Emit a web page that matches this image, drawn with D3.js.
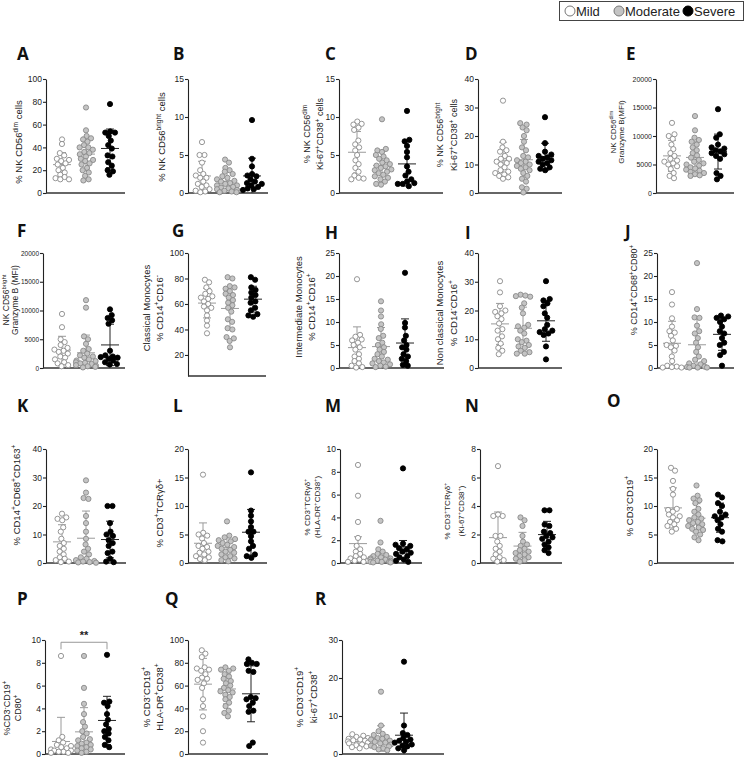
<!DOCTYPE html>
<html>
<head>
<meta charset="utf-8">
<script src="https://cdn.jsdelivr.net/npm/d3@7"></script>
<style>
body { margin: 0; background: #fff; }
svg text { font-family: "Liberation Sans", Arial, sans-serif; fill: #222; }
.letter { font-family: "Open Sans", sans-serif; font-weight: 700; font-size: 17px; fill: #111; }
</style>
</head>
<body>
<svg width="745" height="758"></svg>
<script>
const groups = ["Mild", "Moderate", "Severe"]

// values per panel: [mild, moderate, severe]
const A = [
	[47, 43, 35, 33, 30, 29, 28, 26, 25, 22, 20, 18, 16, 14, 13, 12, 12],
	[75, 55, 50, 48, 47, 45, 42, 40, 40, 38, 36, 35, 34, 32, 30, 29, 28, 26, 25, 22, 20, 18, 15, 12, 11],
	[78, 54, 53, 53, 50, 46, 42, 39, 33, 32, 27, 24, 20, 19, 16]
]
const B = [
	[6.7, 5, 5, 4, 3, 2.5, 2.3, 2, 2, 1.5, 1.2, 1, 0.8, 0.5, 0.3, 0.2, 0.1],
	[4.4, 4, 3.3, 3, 2.8, 2.5, 2.2, 2, 1.8, 1.6, 1.5, 1.3, 1.2, 1, 1, 0.8, 0.7, 0.6, 0.5, 0.4, 0.3, 0.2, 0.1, 0.1],
	[9.6, 4.5, 3.5, 2.5, 2.3, 2.2, 1.8, 1.5, 1.3, 1.2, 1, 0.8, 0.6, 0.5, 0.4]
]
const C = [
	[9.4, 9.1, 9, 8.6, 8.3, 6.9, 6.4, 6, 5.6, 5, 4.3, 3.8, 3.3, 2.8, 2.3, 2.0, 1.8, 1.9],
	[9.7, 5.8, 5.6, 5.4, 5, 4.8, 4.5, 4.3, 4, 3.8, 3.6, 3.5, 3.3, 3.1, 3, 2.8, 2.6, 2.4, 2.2, 2, 1.8, 1.5, 1.2, 1.1],
	[10.8, 7, 6.8, 6.2, 5.4, 4.7, 3.5, 2.8, 2.3, 1.8, 1.5, 1.3, 1.2, 0.9, 1.2]
]
const D = [
	[32.4, 18, 16, 15, 14.5, 13, 12, 12, 11, 10.5, 10, 9, 8, 7.5, 7, 6.5, 6, 5.5, 5],
	[24.5, 24, 23, 22, 20, 18, 16, 15, 13, 12.5, 11.5, 11, 10.5, 10, 9.5, 9, 8.5, 8, 7, 6, 5, 4, 2, 1.5, 0.2],
	[26.6, 17.5, 14.5, 13.5, 13, 12.5, 12, 11.5, 11, 10.5, 10, 9, 8.5, 8]
]
const E = [
	[12300, 10300, 10000, 9500, 8500, 7700, 7000, 6500, 6000, 5700, 5500, 5200, 5000, 4700, 4200, 3500, 3000, 2600],
	[13500, 11000, 9700, 9300, 9000, 8500, 8000, 7500, 7000, 6600, 6200, 5800, 5500, 5200, 5000, 4800, 4500, 4300, 4100, 3900, 3700, 3500, 3300, 3100, 3000],
	[14700, 10300, 9700, 8500, 8000, 7800, 7500, 7300, 7000, 6800, 6500, 6000, 3500, 3000, 2400]
]
const F = [
	[9400, 7100, 5000, 4500, 4000, 3500, 3200, 3000, 2800, 2500, 2000, 1800, 1500, 1000, 800, 500, 300],
	[11800, 10500, 5500, 5000, 4200, 3300, 3000, 2500, 2200, 2000, 1800, 1500, 1300, 1200, 1000, 900, 800, 700, 500, 400, 300, 200, 100],
	[10200, 9200, 8700, 8300, 7700, 3000, 2200, 2000, 1900, 1800, 1600, 1300, 1000, 700, 600]
]
const G = [
	[79, 77, 73, 70, 68, 66, 65, 64, 62, 60, 58, 57, 55, 51, 47, 43, 37],
	[81, 80, 74, 73, 72, 70, 68, 67, 65, 63, 61, 59, 57, 54, 48, 46, 41, 40, 34, 33, 31, 26],
	[81, 79, 73, 71, 69, 67, 65, 62, 61, 57, 55, 52, 51, 50]
]
const H = [
	[19.3, 7.2, 6.8, 6.2, 6, 5.5, 5, 4.5, 4, 3, 2.5, 2, 1.5, 1, 0.5, 0.2, 0.1],
	[14.5, 12.5, 11.2, 9.5, 8.5, 7, 6.5, 5.5, 5, 4.5, 4, 3.5, 3, 2.5, 2, 1.8, 1.5, 1.2, 1, 0.8, 0.5, 0.3, 0.2],
	[20.7, 9.8, 8.8, 7, 6, 5, 4.5, 4, 3, 2.5, 2, 1.5, 0.7, 0.5]
]
const I = [
	[30.2, 26.3, 21.5, 20, 19.5, 19, 18, 17, 15.5, 13.5, 13, 11, 10, 8.5, 7, 6, 4.8],
	[25.5, 25.2, 25, 24.8, 22.5, 21, 19, 15, 14.5, 14, 13, 12, 10, 9.5, 9, 8, 7.5, 7, 6, 5.5, 5, 5],
	[30.2, 24, 23.5, 22.5, 21.5, 19, 17.5, 15, 13.5, 13, 12.5, 12, 11.5, 7.5, 3]
]
const J = [
	[16.5, 13.8, 10.8, 9, 8, 7.7, 7, 6, 5, 4.8, 4.5, 3.8, 2.5, 1.5, 0.5, 0.3, 0.2, 0.1, 0.1],
	[22.8, 12.8, 11, 10.9, 9.2, 8, 7.5, 6.5, 5.5, 4.5, 3.5, 2.5, 1.8, 1.5, 1, 0.8, 0.5, 0.3, 0.2, 0.1, 0.1, 0.1],
	[11.4, 11.2, 10.9, 10.6, 10, 9, 8, 7.5, 6.5, 5.5, 5, 3.5, 2.8, 0.5]
]
const K = [
	[17.3, 16, 15.5, 15, 12.5, 11, 8.5, 7, 6, 5, 4, 3, 2, 1.5, 1, 0.5, 0.3],
	[29, 24.7, 22.8, 22.5, 16.5, 14, 11, 8.5, 6.5, 5, 4, 3, 2, 1.5, 1, 0.7, 0.5, 0.3, 0.2, 0.1],
	[20, 20, 14, 11, 10, 9.5, 8, 7, 6, 4, 3.5, 1.5, 0.5, 0.3]
]
const L = [
	[15.5, 5.3, 5, 4.8, 4.3, 3.5, 3, 2.8, 2.5, 2, 1.8, 1.5, 1.2, 1, 0.7, 0.5],
	[7.3, 4.8, 4.5, 4.2, 4, 3.8, 3.5, 3.2, 3, 2.8, 2.5, 2.3, 2, 1.8, 1.5, 1.2, 1, 0.8, 0.5, 0.3],
	[15.9, 9.2, 8.3, 7.3, 6.3, 5.5, 5.5, 4.7, 3.8, 3, 2.5, 1.5, 1.2, 0.9]
]
const M = [
	[8.6, 5.9, 3.6, 2.2, 1.5, 1.2, 1, 0.8, 0.6, 0.5, 0.4, 0.3, 0.2, 0.2, 0.1, 0.1],
	[3.7, 1.8, 1.2, 1, 0.8, 0.7, 0.6, 0.5, 0.4, 0.4, 0.3, 0.3, 0.2, 0.2, 0.1, 0.1, 0.1, 0.05, 0.05],
	[8.3, 1.7, 1.6, 1.5, 1.3, 1.2, 1, 0.9, 0.8, 0.6, 0.5, 0.3, 0.2, 0.1]
]
const N = [
	[6.8, 3.4, 3.3, 3.3, 1.9, 1.9, 1.5, 1.2, 1, 0.8, 0.6, 0.4, 0.3, 0.2, 0.1],
	[3.2, 3.0, 2.6, 1.9, 1.5, 1.3, 1.2, 1, 0.9, 0.8, 0.7, 0.6, 0.5, 0.4, 0.3, 0.2, 0.1],
	[3.7, 3.7, 2.7, 2.6, 2.2, 2.1, 1.9, 1.8, 1.7, 1.5, 1.3, 1.1, 0.9, 0.7]
]
const O = [
	[16.7, 16.2, 14.4, 13, 12, 9.5, 9.3, 9, 8.5, 8.2, 8, 7.5, 7.2, 6.8, 6.5, 6, 5.5],
	[13.6, 11.8, 11.3, 11, 10.5, 9.5, 9, 8.5, 8, 7.8, 7.5, 7.2, 7, 6.8, 6.5, 6.2, 6, 5.8, 5.5, 5, 4.5, 4],
	[12, 11.5, 10.5, 10, 9, 8.5, 8.2, 8, 7.5, 6.8, 6, 5.5, 4, 3.8]
]
const P = [
	[8.6, 1.5, 1.2, 1, 0.8, 0.7, 0.6, 0.5, 0.4, 0.3, 0.3, 0.2, 0.2, 0.1, 0.1],
	[8.6, 5.8, 4.4, 3.5, 2.8, 2.4, 2, 1.8, 1.5, 1.3, 1.2, 1, 0.9, 0.8, 0.7, 0.6, 0.5, 0.4, 0.3, 0.2, 0.1],
	[8.7, 4.6, 4.5, 4.2, 3.5, 3, 2.6, 2.2, 2, 1.8, 1.5, 1.2, 0.8, 0.6]
]
const Q = [
	[91, 88, 85, 76, 75, 74, 73, 70, 67, 66, 65, 62, 58, 48, 42, 33, 20, 10],
	[76, 75, 74, 73, 70, 68, 66, 64, 62, 60, 58, 56, 55, 54, 52, 50, 48, 45, 42, 38, 36, 33],
	[83, 80, 79, 79, 73, 72, 50, 49, 48, 45, 42, 38, 37, 10, 7]
]
const R = [
	[5.2, 4.8, 4.5, 4.2, 4, 3.8, 3.6, 3.5, 3.3, 3, 2.8, 2.5, 2.3, 2, 1.8, 1.5],
	[16.4, 7.5, 6, 5.3, 5, 4.5, 4.2, 4, 3.8, 3.5, 3.2, 3, 2.8, 2.5, 2.2, 2, 1.8, 1.5, 1.2, 1],
	[24.3, 7.5, 5.5, 5, 4.2, 3.8, 3.5, 3.2, 3, 2.5, 2.2, 2, 1.5, 1]
]

const values = { A, B, C, D, E, F, G, H, I, J, K, L, M, N, O, P, Q, R }

// y domains and tick labels
const domains = {
	A: [0, 100], B: [0, 15], C: [0, 15], D: [0, 40], E: [0, 20000],
	F: [0, 20000], G: [3.5, 100], H: [0, 25], I: [0, 40], J: [0, 25],
	K: [0, 40], L: [0, 20], M: [0, 10], N: [0, 8], O: [0, 20],
	P: [0, 10], Q: [0, 100], R: [0, 30]
}
const ticks = {
	A: [0, 20, 40, 60, 80, 100], B: [0, 5, 10, 15], C: [0, 5, 10, 15], D: [0, 10, 20, 30, 40],
	E: [0, 5000, 10000, 15000, 20000], F: [0, 5000, 10000, 15000, 20000], G: [20, 40, 60, 80, 100],
	H: [0, 5, 10, 15, 20, 25], I: [0, 10, 20, 30, 40], J: [0, 5, 10, 15, 20, 25],
	K: [0, 10, 20, 30, 40], L: [0, 5, 10, 15, 20], M: [0, 2, 4, 6, 8, 10], N: [0, 2, 4, 6, 8],
	O: [0, 5, 10, 15, 20], P: [0, 2, 4, 6, 8, 10], Q: [0, 20, 40, 60, 80, 100], R: [0, 10, 20, 30]
}

// axis titles, ^{..} = superscript
const titles = {
	A: ["% NK CD56^{dim} cells"],
	B: ["% NK CD56^{bright} cells"],
	C: ["% NK CD56^{dim}", "Ki-67^{+}CD38^{+} cells"],
	D: ["% NK CD56^{bright}", "Ki-67^{+}CD38^{+} cells"],
	E: ["NK CD56^{dim}", "Granzyme B(MFI)"],
	F: ["NK CD56^{bright}", "Granzyme B (MFI)"],
	G: ["Classical  Monocytes", "% CD14^{+}CD16^{-}"],
	H: ["Intermediate Monocytes", "% CD14^{+}CD16^{+}"],
	I: ["Non classical  Monocytes", "% CD14^{-}CD16^{+}"],
	J: ["% CD14^{+}CD68^{+}CD80^{+}"],
	K: ["% CD14^{+}CD68^{+}CD163^{+}"],
	L: ["% CD3^{+}TCRγδ+"],
	M: ["% CD3^{+}TCRγδ^{+}", "(HLA-DR^{+}CD38^{+})"],
	N: ["% CD3^{+}TCRγδ^{+}", "(Ki-67^{+}CD38^{+})"],
	O: ["% CD3^{-}CD19^{+}"],
	P: ["%CD3^{-}CD19^{+}", "CD80^{+}"],
	Q: ["% CD3^{-}CD19^{+}", "HLA-DR^{+}CD38^{+}"],
	R: ["% CD3^{-}CD19^{+}", "ki-67^{+}CD38^{+}"]
}

// significance: panel, from group, to group, label, y value
const sigs = [{ id: "P", from: "Mild", to: "Severe", label: "**", y: 9.8 }]

// panel layout (pixels); err: "sd" or "sem"
const layout = [
	{ id: "A", x0: 46, x1: 125, y0: 79, y1: 193, g0: 16, gs: 24, lx: 17, ly: 60, lab: [-24], lcy: 142, tf: 8.5, fs: 9.5 },
	{ id: "B", x0: 188, x1: 268, y0: 79, y1: 193, g0: 14, gs: 25, lx: 173, ly: 60, lab: [-23], lcy: 137, tf: 8.5, fs: 9.5 },
	{ id: "C", x0: 339, x1: 443, y0: 79, y1: 193, g0: 18, gs: 25, lx: 325, ly: 60, lab: [-29, -16], lcy: 134, tf: 8.5, fs: 9 },
	{ id: "D", x0: 478, x1: 562, y0: 79, y1: 193, g0: 25, gs: 21, lx: 465, ly: 60, lab: [-35, -21], lcy: 135, tf: 8.5, fs: 9 },
	{ id: "E", x0: 656, x1: 734, y0: 79, y1: 193, g0: 16, gs: 23, lx: 626, ly: 60, lab: [-40, -32], lcy: 132, tf: 7, fs: 8 },
	{ id: "F", x0: 43, x1: 125, y0: 253, y1: 368, g0: 19, gs: 24, lx: 17, ly: 237, lab: [-34, -25], lcy: 300, tf: 6.5, fs: 8.5 },
	{ id: "G", x0: 188, x1: 266, y0: 253, y1: 376, g0: 19, gs: 23, lx: 172, ly: 237, lab: [-38, -25], lcy: 308, tf: 8.5, fs: 9.5 },
	{ id: "H", x0: 339, x1: 444, y0: 253, y1: 368, g0: 18, gs: 24, lx: 325, ly: 239, lab: [-37, -24], lcy: 307, tf: 8.5, fs: 9.5 },
	{ id: "I", x0: 478, x1: 562, y0: 253, y1: 368, g0: 22, gs: 23, lx: 465, ly: 239, lab: [-35, -21], lcy: 313, tf: 8.5, fs: 9.5 },
	{ id: "J", x0: 657, x1: 734, y0: 253, y1: 368, g0: 15, gs: 25, lx: 625, ly: 238, lab: [-20], lcy: 290, tf: 8.5, fs: 9 },
	{ id: "K", x0: 46, x1: 126, y0: 449, y1: 563, g0: 16, gs: 24, lx: 17, ly: 412, lab: [-26], lcy: 495, tf: 8.5, fs: 9.5 },
	{ id: "L", x0: 188, x1: 267, y0: 449, y1: 563, g0: 15, gs: 24, lx: 173, ly: 412, lab: [-25], lcy: 513, tf: 8.5, fs: 9.5 },
	{ id: "M", x0: 340, x1: 422, y0: 449, y1: 563, g0: 18, gs: 22.5, lx: 325, ly: 412, lab: [-30, -20], lcy: 507, tf: 8.5, fs: 8, err: "sem" },
	{ id: "N", x0: 480, x1: 562, y0: 449, y1: 563, g0: 18, gs: 24.5, lx: 465, ly: 412, lab: [-30, -16], lcy: 511, tf: 8.5, fs: 8 },
	{ id: "O", x0: 657, x1: 734, y0: 449, y1: 563, g0: 16, gs: 23.5, lx: 607, ly: 407, lab: [-24], lcy: 506, tf: 8.5, fs: 9.5 },
	{ id: "P", x0: 45, x1: 125, y0: 640, y1: 754, g0: 16, gs: 23, lx: 17, ly: 605, lab: [-35, -24], lcy: 708, tf: 8.5, fs: 9 },
	{ id: "Q", x0: 188, x1: 268, y0: 640, y1: 754, g0: 15, gs: 24, lx: 165, ly: 605, lab: [-38, -25], lcy: 697, tf: 8.5, fs: 9.5 },
	{ id: "R", x0: 342, x1: 444, y0: 640, y1: 754, g0: 16, gs: 23, lx: 315, ly: 605, lab: [-39, -25], lcy: 697, tf: 8.5, fs: 9.5 }
]

const fills = d3.scaleOrdinal().domain(groups).range(["#ffffff", "#c4c4c4", "#000000"])
const strokes = d3.scaleOrdinal().domain(groups).range(["#8a8a8a", "#8a8a8a", "#000000"])
const barColor = d3.scaleOrdinal().domain(groups).range(["#9a9a9a", "#9a9a9a", "#222222"])
const r = 2.6
const spread = 10 // max half-width of a swarm

const svg = d3.select("svg")

// writes "CD56^{dim}" as text with superscript tspans
function richText(sel, str, fs) {
	const parts = str.split(/(\^\{[^}]*\})/).filter((s) => s.length)
	let up = false
	parts.forEach((s) => {
		if (s.startsWith("^{")) {
			sel.append("tspan").attr("font-size", fs * 0.7).attr("dy", -fs * 0.38).text(s.slice(2, -1))
			up = true
		} else {
			sel.append("tspan").attr("dy", up ? fs * 0.38 : 0).text(s)
			up = false
		}
	})
}

layout.forEach((p) => {
	const data = values[p.id]
	const g = svg.append("g").attr("class", "panel")

	const y = d3.scaleLinear().domain(domains[p.id]).range([p.y1, p.y0])
	const x = d3.scalePoint().domain(groups).range([p.x0 + p.g0, p.x0 + p.g0 + 2 * p.gs])

	// panel letter
	g.append("text").attr("class", "letter").attr("x", p.lx).attr("y", p.ly).text(p.id)

	// y axis
	const ax = g
		.append("g")
		.attr("transform", `translate(${p.x0},0)`)
		.call(d3.axisLeft(y).tickValues(ticks[p.id]).tickSize(3).tickSizeOuter(0).tickFormat(d3.format("d")))
	ax.select(".domain").attr("stroke", "#222").attr("stroke-width", 1.1)
	ax.selectAll(".tick line").attr("stroke", "#222").attr("stroke-width", 1.1)
	ax.selectAll(".tick text").attr("font-size", p.tf).attr("font-family", "Liberation Sans, Arial, sans-serif").attr("fill", "#222").attr("x", -4)

	// x axis line
	g.append("line")
		.attr("x1", p.x0)
		.attr("x2", p.x1)
		.attr("y1", p.y1)
		.attr("y2", p.y1)
		.attr("stroke", "#333")
		.attr("stroke-width", 1.3)

	// axis title (rotated lines)
	titles[p.id].forEach((line, i) => {
		const t = g
			.append("text")
			.attr("transform", `translate(${p.x0 + p.lab[i]},${p.lcy}) rotate(-90)`)
			.attr("text-anchor", "middle")
			.attr("dy", "0.35em")
			.attr("font-size", p.fs)
		richText(t, line, p.fs)
	})

	groups.forEach((grp, gi) => {
		const vals = data[gi]
		const cx = x(grp)
		const mean = d3.mean(vals)
		let sd = d3.deviation(vals)
		if (p.err === "sem") sd = sd / Math.sqrt(vals.length)
		const lo = Math.max(mean - sd, domains[p.id][0])
		const hi = mean + sd

		// error bar (mean +/- SD), behind dots
		const eb = g.append("g").attr("stroke", barColor(grp)).attr("stroke-width", 1)
		eb.append("line").attr("x1", cx).attr("x2", cx).attr("y1", y(lo)).attr("y2", y(hi))
		eb.append("line").attr("x1", cx - 4).attr("x2", cx + 4).attr("y1", y(hi)).attr("y2", y(hi))
		if (mean - sd > domains[p.id][0])
			eb.append("line").attr("x1", cx - 4).attr("x2", cx + 4).attr("y1", y(lo)).attr("y2", y(lo))
		eb.append("line").attr("x1", cx - 9).attr("x2", cx + 9).attr("y1", y(mean)).attr("y2", y(mean))

		// beeswarm positions, kept narrow (dots may overlap a bit)
		const nodes = vals.map((v, i) => ({ v, fy: y(v), x: cx + (i % 2 ? 0.5 : -0.5) * (i % 5) }))
		const sim = d3
			.forceSimulation(nodes)
			.force("x", d3.forceX(cx).strength(0.22))
			.force("collide", d3.forceCollide(r * 0.95).strength(0.7))
			.stop()
		for (let k = 0; k < 200; k++) sim.tick()
		nodes.forEach((d) => (d.x = Math.max(cx - spread, Math.min(cx + spread, d.x))))

		g.append("g")
			.selectAll("circle")
			.data(nodes)
			.join("circle")
			.attr("cx", (d) => d.x)
			.attr("cy", (d) => d.fy)
			.attr("r", r)
			.attr("fill", fills(grp))
			.attr("stroke", strokes(grp))
			.attr("stroke-width", 0.9)
	})

	// significance bracket
	sigs.filter((s) => s.id === p.id).forEach((s) => {
		const yy = y(s.y)
		const b = g.append("g").attr("stroke", "#999").attr("fill", "none").attr("stroke-width", 1)
		b.append("path").attr("d", `M${x(s.from)},${yy + 7}V${yy}H${x(s.to)}V${yy + 7}`)
		g.append("text")
			.attr("x", (x(s.from) + x(s.to)) / 2)
			.attr("y", yy - 3)
			.attr("text-anchor", "middle")
			.attr("font-size", 11)
			.attr("font-weight", 700)
			.text(s.label)
	})
})

// legend
const legend = svg.append("g")
legend
	.append("rect")
	.attr("x", 559.5)
	.attr("y", 1.5)
	.attr("width", 184)
	.attr("height", 19)
	.attr("fill", "none")
	.attr("stroke", "#444")
const legX = d3.scaleOrdinal().domain(groups).range([570, 619, 688])
groups.forEach((grp) => {
	legend
		.append("circle")
		.attr("cx", legX(grp))
		.attr("cy", 11)
		.attr("r", 5)
		.attr("fill", fills(grp))
		.attr("stroke", grp === "Severe" ? "#000" : "#777")
	legend
		.append("text")
		.attr("x", legX(grp) + 6)
		.attr("y", 15.5)
		.attr("font-size", 13)
		.text(grp)
})
</script>
</body>
</html>
